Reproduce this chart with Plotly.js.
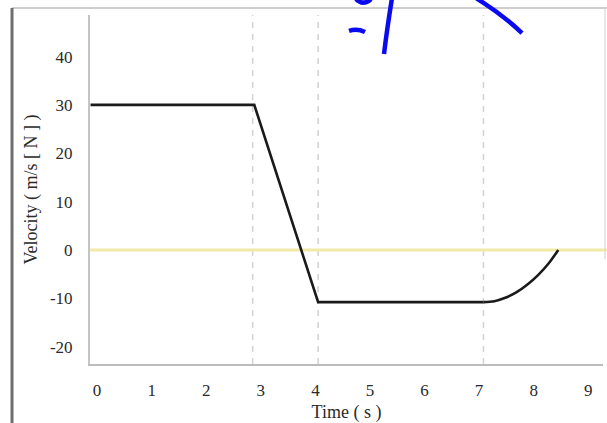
<!DOCTYPE html>
<html><head><meta charset="utf-8">
<script src="https://cdn.plot.ly/plotly-3.0.1.min.js"></script>
<style>html,body{margin:0;padding:0;background:#fff}#chart{width:607px;height:423px}</style>
</head><body><div id="chart"></div>
<script>
// Data
const timeValues = [-0.12, 2.88, 4.05, 7.08, 7.28, 7.48, 7.68, 7.88, 8.08, 8.28, 8.45];
const velocityValues = [30, 30, -10.8, -10.8, -10.6, -9.9, -8.8, -7.2, -5.2, -2.7, 0];
const curveStart = 3; // index where the curved (decelerating) part begins
const markerTimes = [2.85, 4.05, 7.08];
const xTickVals = [0, 1, 2, 3, 4, 5, 6, 7, 8, 9];
const yTickVals = [-20, -10, 0, 10, 20, 30, 40];
const zeroLevel = 0;

const lineStyle = {color: '#1a1a1a', width: 2.6};
const straight = {
  x: timeValues.slice(0, curveStart + 1), y: velocityValues.slice(0, curveStart + 1),
  type: 'scatter', mode: 'lines', line: Object.assign({}, lineStyle, {shape: 'linear'}),
  hoverinfo: 'skip', showlegend: false
};
const curved = {
  x: timeValues.slice(curveStart), y: velocityValues.slice(curveStart),
  type: 'scatter', mode: 'lines', line: Object.assign({}, lineStyle, {shape: 'spline', smoothing: 1}),
  hoverinfo: 'skip', showlegend: false
};

const shapes = [];
markerTimes.forEach(t => shapes.push({
  type: 'line', xref: 'x', yref: 'paper', x0: t, x1: t, y0: 0, y1: 1,
  line: {color: '#d2d2d2', width: 1.5, dash: '6px,6px'}, layer: 'below'
}));
shapes.push({type: 'line', xref: 'paper', yref: 'y', x0: 0, x1: 1.01, y0: zeroLevel, y1: zeroLevel,
  line: {color: '#f1e9a6', width: 3}, layer: 'below'});
// frame
shapes.push({type: 'line', xref: 'paper', yref: 'paper', x0: -0.152, x1: 1.008, y0: 1.0201, y1: 1.0201,
  line: {color: '#bdbdbd', width: 1.5}});
shapes.push({type: 'line', xref: 'paper', yref: 'paper', x0: 1.004, x1: 1.004, y0: 1.0201, y1: 0.3,
  line: {color: '#d8d8d8', width: 1.2}});
shapes.push({type: 'line', xref: 'paper', yref: 'paper', x0: -0.152, x1: -0.152, y0: 1.0201, y1: -0.2,
  line: {color: '#6e6e6e', width: 3}});
// handwritten blue strokes
const blue = {color: '#0a0af0', width: 4.5};
[
  'M0.5049,0.9542 Q0.5205,0.962 0.5361,0.9513',
  'M0.5887,1.0487 Q0.5790,0.96 0.5731,0.8883',
  'M0.5185,1.0458 Q0.5322,1.025 0.5478,1.0458',
  'M0.7524,1.0487 Q0.8051,1.0 0.8421,0.9484'
].forEach(p => shapes.push({type: 'path', xref: 'paper', yref: 'paper', path: p, line: blue}));

const fam = '"Liberation Serif", "DejaVu Serif", serif';
const txt = {family: fam, size: 17, color: '#2a2a2a'};
const ttl = {family: fam, size: 18, color: '#2a2a2a'};

const layout = {
  width: 607, height: 423,
  margin: {l: 90, r: 4, t: 15, b: 59},
  paper_bgcolor: '#fff', plot_bgcolor: '#fff',
  font: txt,
  showlegend: false,
  xaxis: {
    range: [-0.13, 9.27], tickvals: xTickVals, ticktext: xTickVals.map(String),
    showgrid: false, zeroline: false, showline: true, linecolor: '#bcbcbc', linewidth: 2,
    ticks: '', ticklabelstandoff: 10, tickfont: txt,
    title: {text: 'Time ( s )', standoff: 8, font: ttl}
  },
  yaxis: {
    range: [-23.6, 48.6], tickvals: yTickVals, ticktext: yTickVals.map(String),
    showgrid: false, zeroline: false, showline: true, linecolor: '#c4c4c4', linewidth: 2,
    ticks: '', ticklabelstandoff: 12, tickfont: txt,
    title: {text: 'Velocity ( m/s [ N ] )', standoff: 8, font: ttl}
  },
  shapes: shapes
};

Plotly.newPlot('chart', [straight, curved], layout, {staticPlot: true, displayModeBar: false});
</script></body></html>
